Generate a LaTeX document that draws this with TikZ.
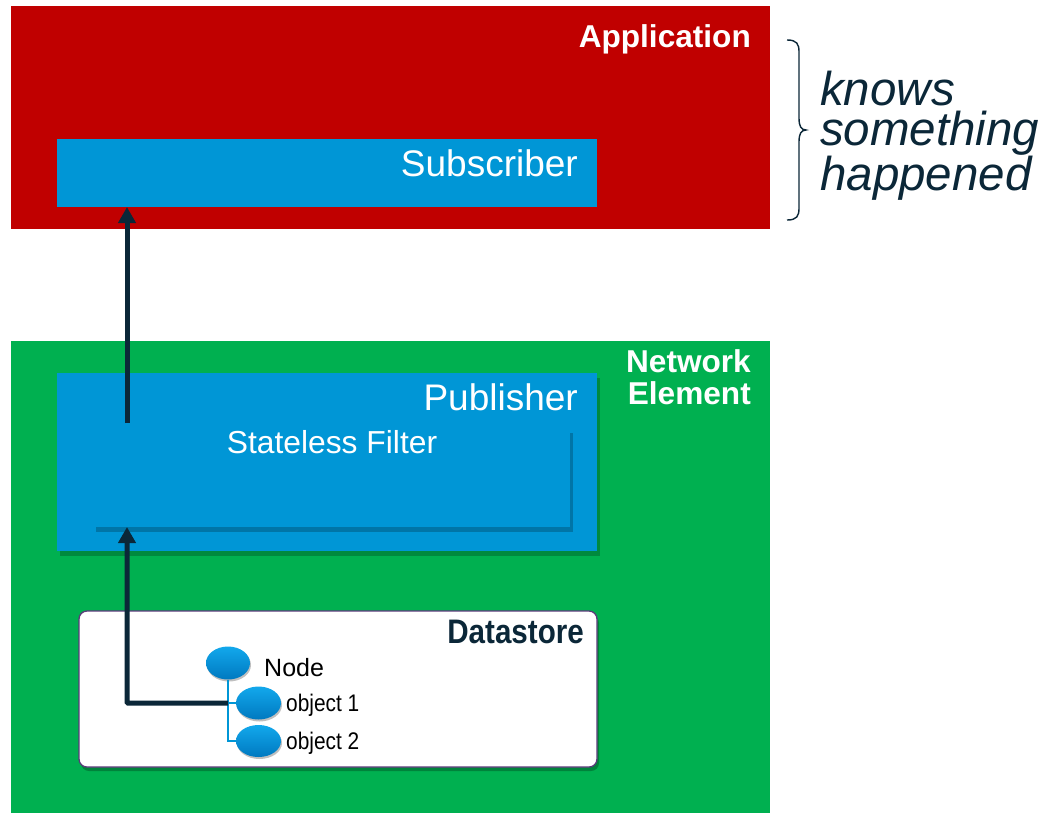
\documentclass[tikz,border=0pt]{standalone}
\usepackage{fontspec}
\setmainfont{Liberation Sans}
\newfontfamily\narrowfont[FakeStretch=0.87]{Liberation Sans}
\usetikzlibrary{arrows.meta,shadows,shapes.geometric}
\definecolor{appred}{HTML}{C00000}
\definecolor{negreen}{HTML}{00B050}
\definecolor{boxblue}{HTML}{0096D6}
\definecolor{navy}{HTML}{0B2738}
\definecolor{dsborder}{HTML}{5B3A7A}
\definecolor{elltop}{HTML}{12A8EC}
\definecolor{ellbot}{HTML}{0079C0}
\tikzset{
  area/.style={draw=none, inner sep=0pt, outer sep=0pt},
  bluebox/.style={area, fill=boxblue},
  boxshadow/.style={drop shadow={shadow xshift=3pt, shadow yshift=-5pt, opacity=0.22, fill=black}},
  white label/.style={text=white, inner sep=0pt},
  ell/.style={ellipse, inner sep=0pt, top color=elltop, bottom color=ellbot,
              drop shadow={shadow xshift=1pt, shadow yshift=-2pt, opacity=0.25, fill=black}},
  treeline/.style={draw=boxblue, line width=1.5pt},
  flow/.style={draw=navy, line width=5pt, -{Triangle[width=17pt,length=16pt]}},
}
\begin{document}
\begin{tikzpicture}[x=1pt,y=-1pt]
\useasboundingbox (0,0) rectangle (1048,812);
\fill[white] (0,0) rectangle (1048,812);

% Application
\node[area, fill=appred, minimum width=759pt, minimum height=223pt] (app) at (390.5,117.5) {};
\node[white label, anchor=base east, font=\bfseries\fontsize{31.6}{36}\selectfont] (applbl) at (751,47) {Application};
\node[bluebox, minimum width=540pt, minimum height=68pt] (sub) at (327,173) {};
\node[white label, anchor=base east, font=\fontsize{37}{44}\selectfont] (sublbl) at (578,176) {Subscriber};

% Brace and comment
\draw[navy, line width=1.4pt] (787,40) .. controls (797,40) and (799,44) .. (799,52)
  -- (799,118) .. controls (799,126) and (801,130) .. (806,130)
  .. controls (801,130) and (799,134) .. (799,142)
  -- (799,208) .. controls (799,216) and (797,220) .. (787,220);
\node[anchor=north west, inner sep=0pt, text=navy, align=left,
      font=\itshape\fontsize{47.5}{40}\selectfont] (comment) at (820,71)
  {knows\\something\\happened};

% Network element
\node[area, fill=negreen, minimum width=759pt, minimum height=475pt] (ne) at (390.5,578.5) {};
\node[white label, anchor=base east, font=\bfseries\fontsize{31.6}{36}\selectfont] (nelbl1) at (751,372) {Network};
\node[white label, anchor=base east, font=\bfseries\fontsize{31.6}{36}\selectfont] (nelbl2) at (751,404) {Element};

\node[bluebox, boxshadow, minimum width=540pt, minimum height=178pt] (pub) at (327,462) {};
\node[white label, anchor=base east, font=\fontsize{37}{44}\selectfont] (publbl) at (578,410) {Publisher};
\node[bluebox, boxshadow, minimum width=477pt, minimum height=99pt] (filter) at (331.5,477.5) {};
\node[white label, anchor=base, font=\fontsize{31.8}{36}\selectfont] (filtlbl) at (332,453) {Stateless Filter};

% Datastore
\node[draw=dsborder, line width=1.3pt, fill=white, rounded corners=8pt, inner sep=0pt,
      minimum width=518pt, minimum height=156pt,
      drop shadow={shadow xshift=2pt, shadow yshift=-4pt, opacity=0.25, fill=black}] (ds) at (338,689) {};
\node[anchor=base east, inner sep=0pt, text=navy, font=\narrowfont\bfseries\fontsize{34}{40}\selectfont] (dslbl) at (584,643) {Datastore};

\node[ell, minimum width=44pt, minimum height=33pt] (n0) at (228,663) {};
\node[ell, minimum width=45pt, minimum height=33pt] (o1) at (258.5,703) {};
\node[ell, minimum width=45pt, minimum height=32pt] (o2) at (258.5,741) {};
\node[anchor=base west, inner sep=0pt, font=\fontsize{25}{30}\selectfont] (n0lbl) at (264,676) {Node};
\node[anchor=base west, inner sep=0pt, font=\narrowfont\fontsize{24}{28}\selectfont] (o1lbl) at (286,711) {object 1};
\node[anchor=base west, inner sep=0pt, font=\narrowfont\fontsize{24}{28}\selectfont] (o2lbl) at (286,749) {object 2};

\coordinate (j1) at (228,703);
\coordinate (j2) at (228,741);
\draw[treeline] (n0.south) -- (j2) -- (o2.west);
\draw[treeline] (j1) -- (o1.west);

% Flow arrows
\coordinate (upstart) at (127,423);
\draw[flow, rounded corners=1pt] (j1) -| (filter.south -| upstart);
\draw[flow] (upstart) -- (sub.south -| upstart);
\end{tikzpicture}
\end{document}
